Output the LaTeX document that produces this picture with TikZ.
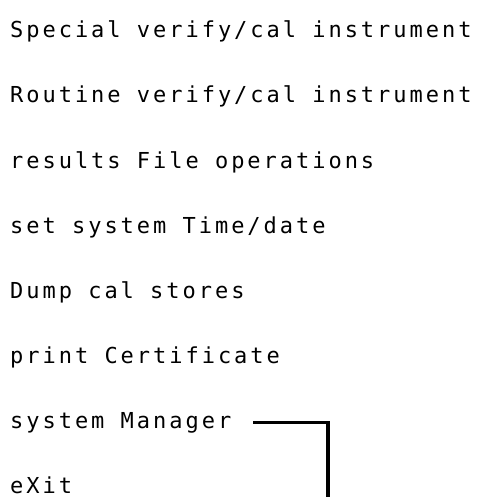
\documentclass[tikz,border=0pt]{standalone}
\usepackage{fontspec}
\newfontfamily\plotfont[LetterSpace=13.5]{DejaVu Sans Mono}
\begin{document}
\begin{tikzpicture}[x=1pt,y=-1pt,
	item/.style={anchor=base west,inner sep=0pt,font=\plotfont\fontsize{22}{26}\selectfont},
	wire/.style={line width=3.2pt}]
	\def\lx{10}
	\useasboundingbox (0,0) rectangle (481,497);
	% menu entries
	\node[item] (special) at (\lx,38) {Special verify/cal instrument};
	\node[item] (routine) at (\lx,103) {Routine verify/cal instrument};
	\node[item] (results) at (\lx,168) {results File operations};
	\node[item] (settime) at (\lx,233) {set system Time/date};
	\node[item] (dump) at (\lx,298) {Dump cal stores};
	\node[item] (cert) at (\lx,363) {print Certificate};
	\node[item] (sysman) at (\lx,428) {system Manager};
	\node[item] (exit) at (\lx,493) {eXit};
	% lead from system Manager
	\coordinate (drop) at (328,497);
	\draw[wire] ([xshift=22pt]sysman.east) -| (drop);
\end{tikzpicture}
\end{document}
